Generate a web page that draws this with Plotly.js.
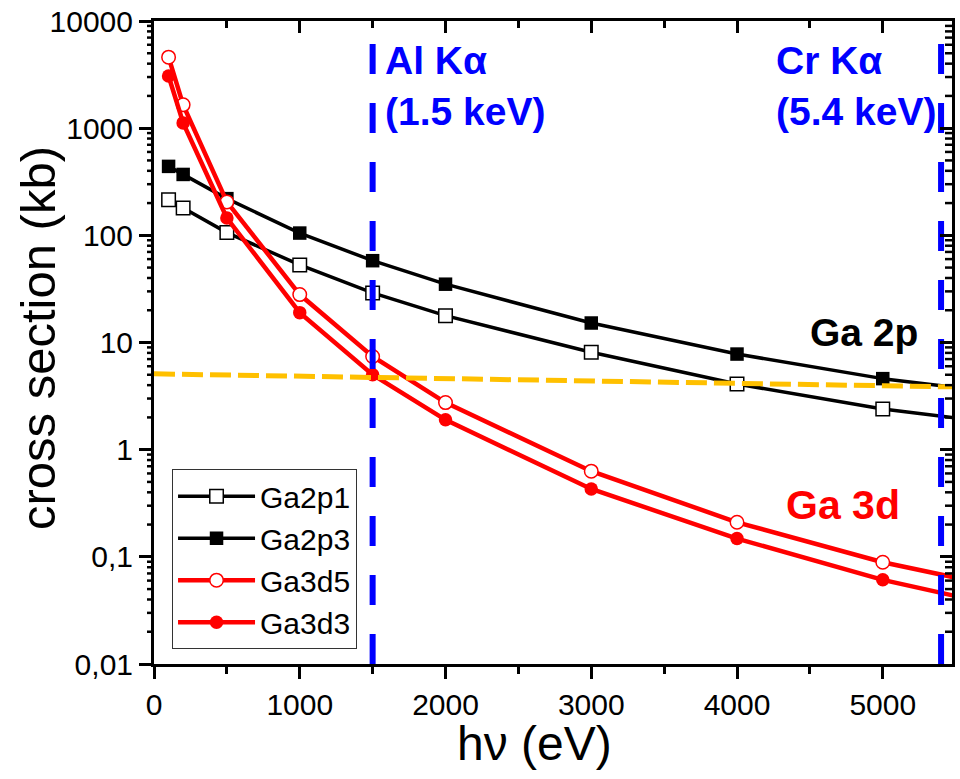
<!DOCTYPE html>
<html>
<head>
<meta charset="utf-8">
<script src="https://cdn.plot.ly/plotly-3.0.1.min.js"></script>
<style>html,body{margin:0;padding:0;background:#fff}</style>
</head>
<body>
<div id="chart" style="width:960px;height:779px"></div>
<script>
// photon energy (eV)
const energy = [100, 200, 500, 1000, 1500, 2000, 3000, 4000, 5000];
// cross sections (kb)
const ga2p1 = [215, 180, 106, 53, 29, 17.8, 8.1, 4.1, 2.4];
const ga2p3 = [440, 370, 220, 105, 58, 35, 15.2, 7.8, 4.6];
const ga3d5 = [4600, 1650, 205, 28, 7.4, 2.75, 0.63, 0.21, 0.089];
const ga3d3 = [3070, 1120, 145, 19, 5.0, 1.9, 0.43, 0.148, 0.061];
// continuation of each curve to the right frame
const tailEnergy = [5000, 5500];
const ga2p1Tail = [2.4, 1.98];
const ga2p3Tail = [4.6, 3.8];
const ga3d5Tail = [0.089, 0.064];
const ga3d3Tail = [0.061, 0.043];
// detection threshold line
const thresholdX = [0, 5500];
const thresholdY = [5.1, 3.85];
// X-ray sources
const sourceX = [1500, 5400];
const sourceLine1 = ['Al K\u03b1', 'Cr K\u03b1'];
const sourceLine2 = ['(1.5 keV)', '(5.4 keV)'];
const yTickVals = [0.01, 0.1, 1, 10, 100, 1000, 10000];
const yTickText = ['0,01', '0,1', '1', '10', '100', '1000', '10000'];
const xRange = [0, 5475];
const yRange = [0.01, 10000];

// minor tick positions (2..9 in each decade) for the log axis
const yMinor = [];
for (let e = -2; e < 4; e++) for (let m = 2; m <= 9; m++) yMinor.push(m * Math.pow(10, e));

const font = 'Arial, "Liberation Sans", sans-serif';
const logRange = [Math.log10(yRange[0]), Math.log10(yRange[1])];
const traces = [];
function series(name, y, tailY, color, symbol, open, lw) {
  traces.push({x: tailEnergy, y: tailY, mode: 'lines', showlegend: false, hoverinfo: 'skip',
    line: {color: color, width: lw}});
  traces.push({x: energy, y: y, name: name, mode: 'lines+markers',
    line: {color: color, width: lw},
    marker: {symbol: symbol, size: 13.5, color: open ? '#ffffff' : color,
      line: {color: color, width: open ? 1.5 : 0}}});
}
series('Ga2p1', ga2p1, ga2p1Tail, '#000000', 'square', true, 3.5);
series('Ga2p3', ga2p3, ga2p3Tail, '#000000', 'square', false, 3.5);
series('Ga3d5', ga3d5, ga3d5Tail, '#ff0000', 'circle', true, 4.5);
series('Ga3d3', ga3d3, ga3d3Tail, '#ff0000', 'circle', false, 4.5);
traces.push({x: thresholdX, y: thresholdY, mode: 'lines', showlegend: false, hoverinfo: 'skip',
  line: {color: '#ffc000', width: 5, dash: '21px,7px'}});
sourceX.forEach(function (sx) {
  traces.push({x: [sx, sx], y: [yRange[0], yRange[1]], mode: 'lines', showlegend: false, hoverinfo: 'skip',
    line: {color: '#0000ff', width: 6, dash: '30px,29px'}});
});
traces.push({x: [0], y: [1], xaxis: 'x2', yaxis: 'y2', mode: 'markers', showlegend: false,
  hoverinfo: 'skip', marker: {opacity: 0}});

const annotations = [];
sourceX.forEach(function (sx, i) {
  const ax = i === 0 ? 1568 : 4255;
  annotations.push({x: ax, xref: 'x', y: 0.9393, yref: 'paper', xanchor: 'left', yanchor: 'middle',
    text: '<b>' + sourceLine1[i] + '</b>', showarrow: false,
    font: {family: font, size: 39, color: '#0000ff'}});
  annotations.push({x: ax, xref: 'x', y: 0.86, yref: 'paper', xanchor: 'left', yanchor: 'middle',
    text: '<b>' + sourceLine2[i] + '</b>', showarrow: false,
    font: {family: font, size: 39, color: '#0000ff'}});
});
annotations.push({x: 4485, xref: 'x', y: 0.515, yref: 'paper', xanchor: 'left', yanchor: 'middle',
  text: '<b>Ga 2p</b>', showarrow: false, font: {family: font, size: 39, color: '#000000'}});
annotations.push({x: 4325, xref: 'x', y: 0.247, yref: 'paper', xanchor: 'left', yanchor: 'middle',
  text: '<b>Ga 3d</b>', showarrow: false, font: {family: font, size: 41, color: '#ff0000'}});
// axis titles
annotations.push({x: -0.1454, xref: 'paper', y: 0.507, yref: 'paper', xanchor: 'center', yanchor: 'middle',
  text: 'cross section (kb)', textangle: -90, showarrow: false,
  font: {family: font, size: 49, color: '#000000'}});
annotations.push({x: 0.4774, xref: 'paper', y: -0.124, yref: 'paper', xanchor: 'center', yanchor: 'middle',
  text: 'h\u03bd (eV)', showarrow: false, font: {family: font, size: 48, color: '#000000'}});

// minor ticks of the log axis (left: outward, right: inward)
const tickFrac = 7 / 798;
const shapes = [];
yMinor.forEach(function (v) {
  shapes.push({type: 'line', xref: 'paper', yref: 'y', x0: -tickFrac, x1: 0, y0: v, y1: v,
    line: {color: '#000', width: 2.5}});
  shapes.push({type: 'line', xref: 'paper', yref: 'y', x0: 1 - tickFrac, x1: 1, y0: v, y1: v,
    line: {color: '#000', width: 2.5}});
});

const layout = {
  width: 960, height: 779,
  margin: {l: 154, r: 8, t: 21, b: 115, pad: 0},
  paper_bgcolor: '#ffffff', plot_bgcolor: '#ffffff',
  font: {family: font, color: '#000000'},
  showlegend: true,
  legend: {x: 0.0226, y: 0.303, xanchor: 'left', yanchor: 'top', bgcolor: '#ffffff',
    bordercolor: '#333333', borderwidth: 1, font: {family: font, size: 30, color: '#000'},
    itemwidth: 77, tracegroupgap: 0},
  xaxis: {range: xRange, showgrid: false, zeroline: false, showline: true, linecolor: '#000', linewidth: 3,
    ticks: 'outside', ticklen: 12, tickwidth: 3, tickcolor: '#000', dtick: 1000, tick0: 0,
    tickfont: {family: font, size: 30, color: '#000'},
    minor: {ticks: 'outside', ticklen: 7, tickwidth: 3, tickcolor: '#000', dtick: 500, tick0: 0}},
  yaxis: {type: 'log', range: logRange, showgrid: false, zeroline: false,
    showline: true, linecolor: '#000', linewidth: 3,
    ticks: 'outside', ticklen: 12, tickwidth: 3, tickcolor: '#000',
    tickmode: 'array', tickvals: yTickVals, ticktext: yTickText,
    tickfont: {family: font, size: 30, color: '#000'}},
  xaxis2: {overlaying: 'x', side: 'top', range: xRange, showgrid: false, zeroline: false, showline: true,
    linecolor: '#000', linewidth: 3, ticks: 'inside', ticklen: 12, tickwidth: 3, tickcolor: '#000',
    dtick: 1000, tick0: 0, showticklabels: false,
    minor: {ticks: 'inside', ticklen: 7, tickwidth: 3, tickcolor: '#000', dtick: 500, tick0: 0}},
  yaxis2: {overlaying: 'y', side: 'right', type: 'log', range: logRange,
    showgrid: false, zeroline: false, showline: true, linecolor: '#000', linewidth: 3,
    ticks: 'inside', ticklen: 12, tickwidth: 3, tickcolor: '#000', tickmode: 'array', tickvals: yTickVals,
    showticklabels: false},
  shapes: shapes,
  annotations: annotations
};
Plotly.newPlot('chart', traces, layout, {displayModeBar: false, staticPlot: true});
</script>
</body>
</html>
